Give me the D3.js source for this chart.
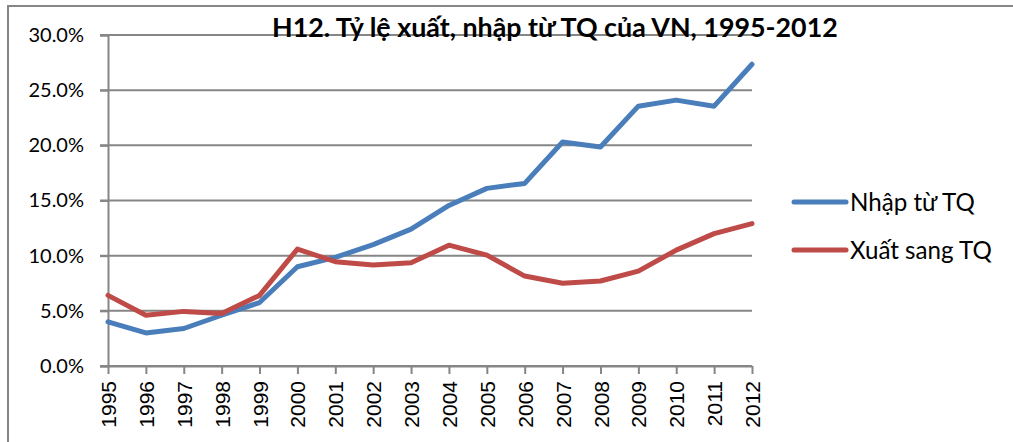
<!DOCTYPE html>
<html><head><meta charset="utf-8">
<script src="https://cdn.jsdelivr.net/npm/d3@7"></script>
<style>body{margin:0;background:#fff;} svg{display:block;}</style>
</head><body>
<svg id="chart" width="1013" height="442"></svg>
<script>
const years = [1995,1996,1997,1998,1999,2000,2001,2002,2003,2004,2005,2006,2007,2008,2009,2010,2011,2012];
const nhapTuTQ = [4.0,3.0,3.4,4.6,5.75,9.0,9.85,11.0,12.4,14.55,16.1,16.55,20.3,19.85,23.55,24.1,23.55,27.35];
const xuatSangTQ = [6.4,4.6,4.95,4.75,6.4,10.6,9.45,9.15,9.35,10.95,10.05,8.15,7.5,7.7,8.6,10.5,12.0,12.9];
const yTicks = [0,5,10,15,20,25,30];
const seriesNames = ["Nhập từ TQ","Xuất sang TQ"];
const seriesColors = ["#4a7ebb","#be4b48"];
const title = "H12. Tỷ lệ xuất, nhập từ TQ của VN, 1995-2012";

const svg = d3.select("#chart");
const grid = "#868686";

// outer frame
svg.append("rect").attr("x",8).attr("y",6).attr("width",1020).attr("height",450)
  .attr("fill","none").attr("stroke",grid).attr("stroke-width",2);

const x = d3.scalePoint().domain(years).range([108,752]);
const y = d3.scaleLinear().domain([0,30]).range([366,35]);

// gridlines
svg.append("g").selectAll("line").data(yTicks).join("line")
  .attr("x1",100).attr("x2",752)
  .attr("y1",d=>y(d)).attr("y2",d=>y(d))
  .attr("stroke",grid).attr("stroke-width",2);

// y axis
const yAxis = svg.append("g").attr("transform","translate(108,0)")
  .call(d3.axisLeft(y).tickValues(yTicks).tickSize(8).tickPadding(16).tickFormat(d=>d.toFixed(1)+"%"));
yAxis.select(".domain").attr("stroke",grid).attr("stroke-width",2);
yAxis.selectAll(".tick line").attr("stroke",grid).attr("stroke-width",2);
yAxis.selectAll("text").attr("font-family","Lato, 'Open Sans', sans-serif").attr("font-size",20).attr("fill","#000");

// x axis
const xAxis = svg.append("g").attr("transform","translate(0,366)")
  .call(d3.axisBottom(x).tickSize(8).tickSizeOuter(0));
xAxis.select(".domain").attr("stroke",grid).attr("stroke-width",2);
xAxis.selectAll(".tick line").attr("stroke",grid).attr("stroke-width",2);
xAxis.selectAll("text")
  .attr("font-family","'Liberation Sans', Arial, sans-serif").attr("font-size",21).attr("fill","#000")
  .attr("transform","rotate(-90)")
  .attr("text-anchor","end")
  .attr("x",-15).attr("y",0).attr("dy","0.36em");

// lines
const line = d3.line().x((d,i)=>x(years[i])).y(d=>y(d));
[nhapTuTQ, xuatSangTQ].forEach((s,k)=>{
  svg.append("path").datum(s).attr("d",line)
    .attr("fill","none").attr("stroke",seriesColors[k]).attr("stroke-width",5)
    .attr("stroke-linejoin","round").attr("stroke-linecap","round");
});

// title
function fit(t, w){
  let fs = +t.attr("font-size");
  const len = t.node().getComputedTextLength();
  t.attr("font-size", fs*w/len);
}
const tt = svg.append("text").attr("x",272).attr("y",37).text(title)
  .attr("font-family","Lato, 'Open Sans', sans-serif").attr("font-weight","bold").attr("font-size",26).attr("fill","#000");
fit(tt,566);

// legend
const legY = [202,250];
const legW = [125,142];
seriesNames.forEach((n,k)=>{
  svg.append("line").attr("x1",794).attr("x2",846).attr("y1",legY[k]).attr("y2",legY[k])
    .attr("stroke",seriesColors[k]).attr("stroke-width",5).attr("stroke-linecap","round");
  const t = svg.append("text").attr("x",850).attr("y",legY[k]+9).text(n)
    .attr("font-family","Lato, 'Open Sans', sans-serif").attr("font-size",24).attr("fill","#000");
  fit(t,legW[k]);
});
</script>
</body></html>
